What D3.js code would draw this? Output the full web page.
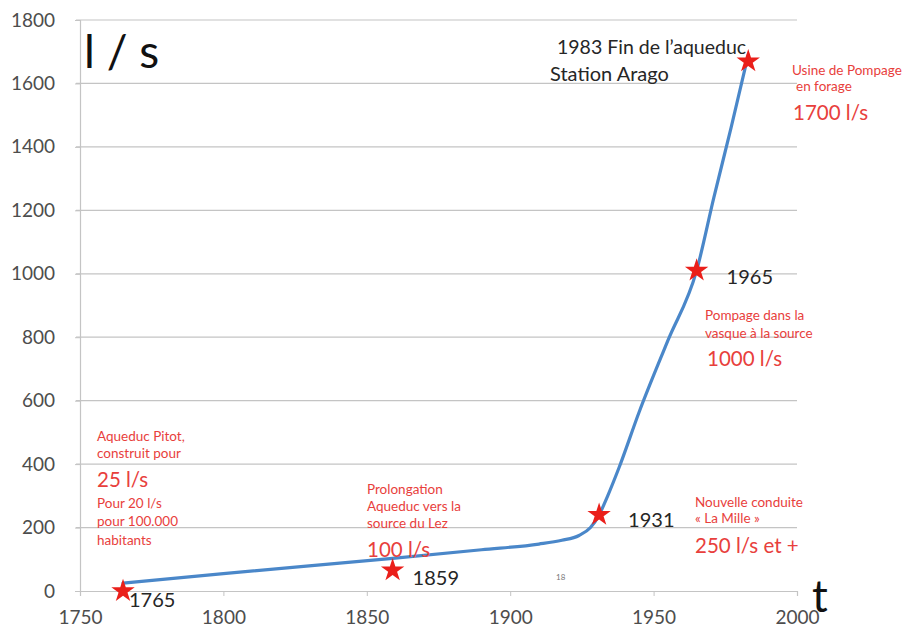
<!DOCTYPE html>
<html>
<head>
<meta charset="utf-8">
<script src="https://cdn.jsdelivr.net/npm/d3@7"></script>
<style>
  html, body { margin: 0; padding: 0; background: #fff; }
  svg { display: block; font-family: Lato, "Open Sans", sans-serif; }
</style>
</head>
<body>
<svg id="chart" width="915" height="631"></svg>
<script>
// Débit d'eau disponible (l/s) au fil des années
const curveYears  = [1765, 1800, 1859, 1890, 1910, 1918, 1924, 1928, 1931, 1934, 1938, 1945, 1955, 1965, 1971, 1977, 1983];
const curveValues = [25,   55,   103,  130,  148,  160,  175,  200,  240,  300,  390,  565,  790,  1010, 1240, 1460, 1690];

// Étapes marquées d'une étoile
const eventYears  = [1765, 1859, 1931, 1965, 1983];
const eventValues = [0,    65,   240,  1010, 1670];
const eventLabels = ["1765", "1859", "1931", "1965", ""];

const xTicks = [1750, 1800, 1850, 1900, 1950, 2000];
const yTicks = [0, 200, 400, 600, 800, 1000, 1200, 1400, 1600, 1800];

const svg = d3.select("#chart");
const x = d3.scaleLinear().domain([1750, 2000]).range([80, 797]);
const y = d3.scaleLinear().domain([0, 1800]).range([591, 20]);

// Grille horizontale
svg.append("g")
  .selectAll("line")
  .data(yTicks.filter(d => d > 0))
  .join("line")
  .attr("x1", x(1750) - 4).attr("x2", x(2000))
  .attr("y1", d => y(d)).attr("y2", d => y(d))
  .attr("stroke", "#c4c4c4").attr("stroke-width", 1.2);

// Axe vertical
const yAxis = d3.axisLeft(y).tickValues(yTicks).tickFormat(d3.format("d")).tickSize(5).tickPadding(20);
const gy = svg.append("g").attr("transform", `translate(${x(1750)},0)`).call(yAxis);
gy.select(".domain").attr("stroke", "#c4c4c4").attr("stroke-width", 1.2);
gy.selectAll(".tick line").attr("stroke", "#c4c4c4");
gy.selectAll(".tick text")
  .attr("fill", "#4d4d4d").attr("font-size", 19).attr("font-family", "Lato, sans-serif");

// Axe horizontal
const xAxis = d3.axisBottom(x).tickValues(xTicks).tickFormat(d3.format("d")).tickSize(5).tickPadding(15);
const gx = svg.append("g").attr("transform", `translate(0,${y(0)})`).call(xAxis);
gx.select(".domain").attr("stroke", "#c4c4c4").attr("stroke-width", 1.2);
gx.selectAll(".tick line").attr("stroke", "#c4c4c4");
gx.selectAll(".tick text")
  .attr("fill", "#4d4d4d").attr("font-size", 19).attr("font-family", "Lato, sans-serif");

// Courbe du débit
const line = d3.line()
  .x((d, i) => x(curveYears[i]))
  .y(d => y(d))
  .curve(d3.curveMonotoneX);
svg.append("path")
  .datum(curveValues)
  .attr("d", line)
  .attr("fill", "none")
  .attr("stroke", "#4a87c9")
  .attr("stroke-width", 3.2)
  .attr("stroke-linecap", "round");

// Étoiles
const star = d3.symbol().type(d3.symbolStar).size(170);
svg.append("g")
  .selectAll("path")
  .data(eventYears)
  .join("path")
  .attr("d", star)
  .attr("transform", (d, i) => `translate(${x(d)},${y(eventValues[i])})`)
  .attr("fill", "#ea1f1a");

// Années des étapes
const yearOffsets = [[6, 16], [20, 15], [29, 12], [30, 13], [0, 0]];
svg.append("g")
  .selectAll("text")
  .data(eventYears)
  .join("text")
  .attr("x", (d, i) => x(d) + yearOffsets[i][0])
  .attr("y", (d, i) => y(eventValues[i]) + yearOffsets[i][1])
  .attr("font-size", 20)
  .attr("fill", "#262626")
  .text((d, i) => eventLabels[i]);

// Unités
svg.append("text").attr("x", 84).attr("y", 68).attr("font-size", 46).attr("fill", "#111")
  .attr("font-family", "Lato, sans-serif").text("l / s");
svg.append("text").attr("x", 812).attr("y", 612).attr("font-size", 44).attr("fill", "#111")
  .attr("font-family", "Lato, sans-serif").text("t");

// Annotation 1983
svg.append("text").attr("x", 557).attr("y", 54).attr("font-size", 19.5).attr("fill", "#262626").text("1983 Fin de l\u2019aqueduc");
svg.append("text").attr("x", 550).attr("y", 81).attr("font-size", 20).attr("fill", "#262626").text("Station Arago");

// Petit repère
svg.append("text").attr("x", 556).attr("y", 580).attr("font-size", 8).attr("fill", "#777").text("18");

// Annotations rouges : [x, y, taille, texte]
const red = "#e8403c";
const notes = [
  [97, 441, 13.5, "Aqueduc Pitot,"],
  [97, 458, 13.5, "construit pour"],
  [97, 487, 20.5, "25 l/s"],
  [97, 508, 13.5, "Pour 20 l/s"],
  [97, 526, 13.5, "pour 100.000"],
  [97, 545, 13.5, "habitants"],
  [367, 494, 13.5, "Prolongation"],
  [367, 511, 13.5, "Aqueduc vers la"],
  [367, 528, 13.5, "source du Lez"],
  [367, 557, 20.5, "100 l/s"],
  [695, 507, 13.5, "Nouvelle conduite"],
  [695, 523, 13.5, "« La Mille »"],
  [695, 553, 20.5, "250 l/s et +"],
  [705, 320, 13.5, "Pompage dans la"],
  [705, 338, 13.5, "vasque à la source"],
  [707, 366, 20.5, "1000 l/s"],
  [792, 75, 13.5, "Usine de Pompage"],
  [796, 91, 13.5, "en forage"],
  [793, 120, 20.5, "1700 l/s"]
];
svg.append("g")
  .selectAll("text")
  .data(notes)
  .join("text")
  .attr("x", d => d[0]).attr("y", d => d[1])
  .attr("font-size", d => d[2])
  .attr("fill", red)
  .text(d => d[3]);
</script>
</body>
</html>
